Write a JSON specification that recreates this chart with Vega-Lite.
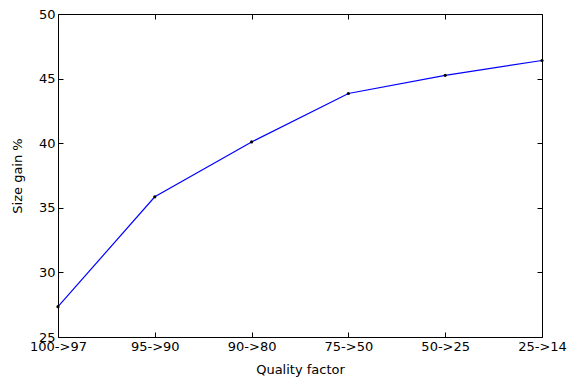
{
  "$schema": "https://vega.github.io/schema/vega-lite/v6.json",
  "width": 484,
  "height": 323,
  "autosize": {"type": "none"},
  "padding": {"left": 58, "top": 14, "right": 32, "bottom": 43},
  "background": "white",
  "config": {
    "view": {"stroke": null},
    "font": "DejaVu Sans",
    "axis": {
      "domainColor": "black",
      "tickColor": "black",
      "labelColor": "black",
      "titleColor": "black",
      "labelFont": "DejaVu Sans",
      "titleFont": "DejaVu Sans",
      "labelFontSize": 13,
      "titleFontSize": 13,
      "titleFontWeight": "normal",
      "grid": false,
      "tickSize": -5,
      "domainWidth": 1,
      "tickWidth": 1
    }
  },
  "data": {
    "values": [
      {"q": "100->97", "gain": 27.35},
      {"q": "95->90", "gain": 35.85},
      {"q": "90->80", "gain": 40.1},
      {"q": "75->50", "gain": 43.85},
      {"q": "50->25", "gain": 45.25},
      {"q": "25->14", "gain": 46.4}
    ]
  },
  "layer": [
    {
      "mark": {"type": "line", "color": "#0000ff", "strokeWidth": 1.2, "clip": true},
      "encoding": {
        "x": {
          "field": "q", "type": "ordinal", "sort": null,
          "scale": {"type": "point", "padding": 0},
          "axis": {"orient": "bottom", "title": "Quality factor", "labelAngle": 0, "labelPadding": 8, "titlePadding": 10}
        },
        "y": {
          "field": "gain", "type": "quantitative",
          "scale": {"domain": [25, 50], "nice": false, "zero": false},
          "axis": {"orient": "left", "title": "Size gain %", "values": [25, 30, 35, 40, 45, 50], "labelPadding": 8, "titlePadding": 14}
        }
      }
    },
    {
      "mark": {"type": "point", "filled": true, "color": "black", "size": 10, "opacity": 1},
      "encoding": {
        "x": {
          "field": "q", "type": "ordinal", "sort": null,
          "scale": {"type": "point", "padding": 0},
          "axis": {"orient": "top", "title": null, "labels": false, "tickSize": -5}
        },
        "y": {
          "field": "gain", "type": "quantitative",
          "scale": {"domain": [25, 50], "nice": false, "zero": false},
          "axis": {"orient": "right", "title": null, "labels": false, "values": [25, 30, 35, 40, 45, 50], "tickSize": -5}
        }
      }
    }
  ],
  "resolve": {"axis": {"x": "independent", "y": "independent"}}
}
